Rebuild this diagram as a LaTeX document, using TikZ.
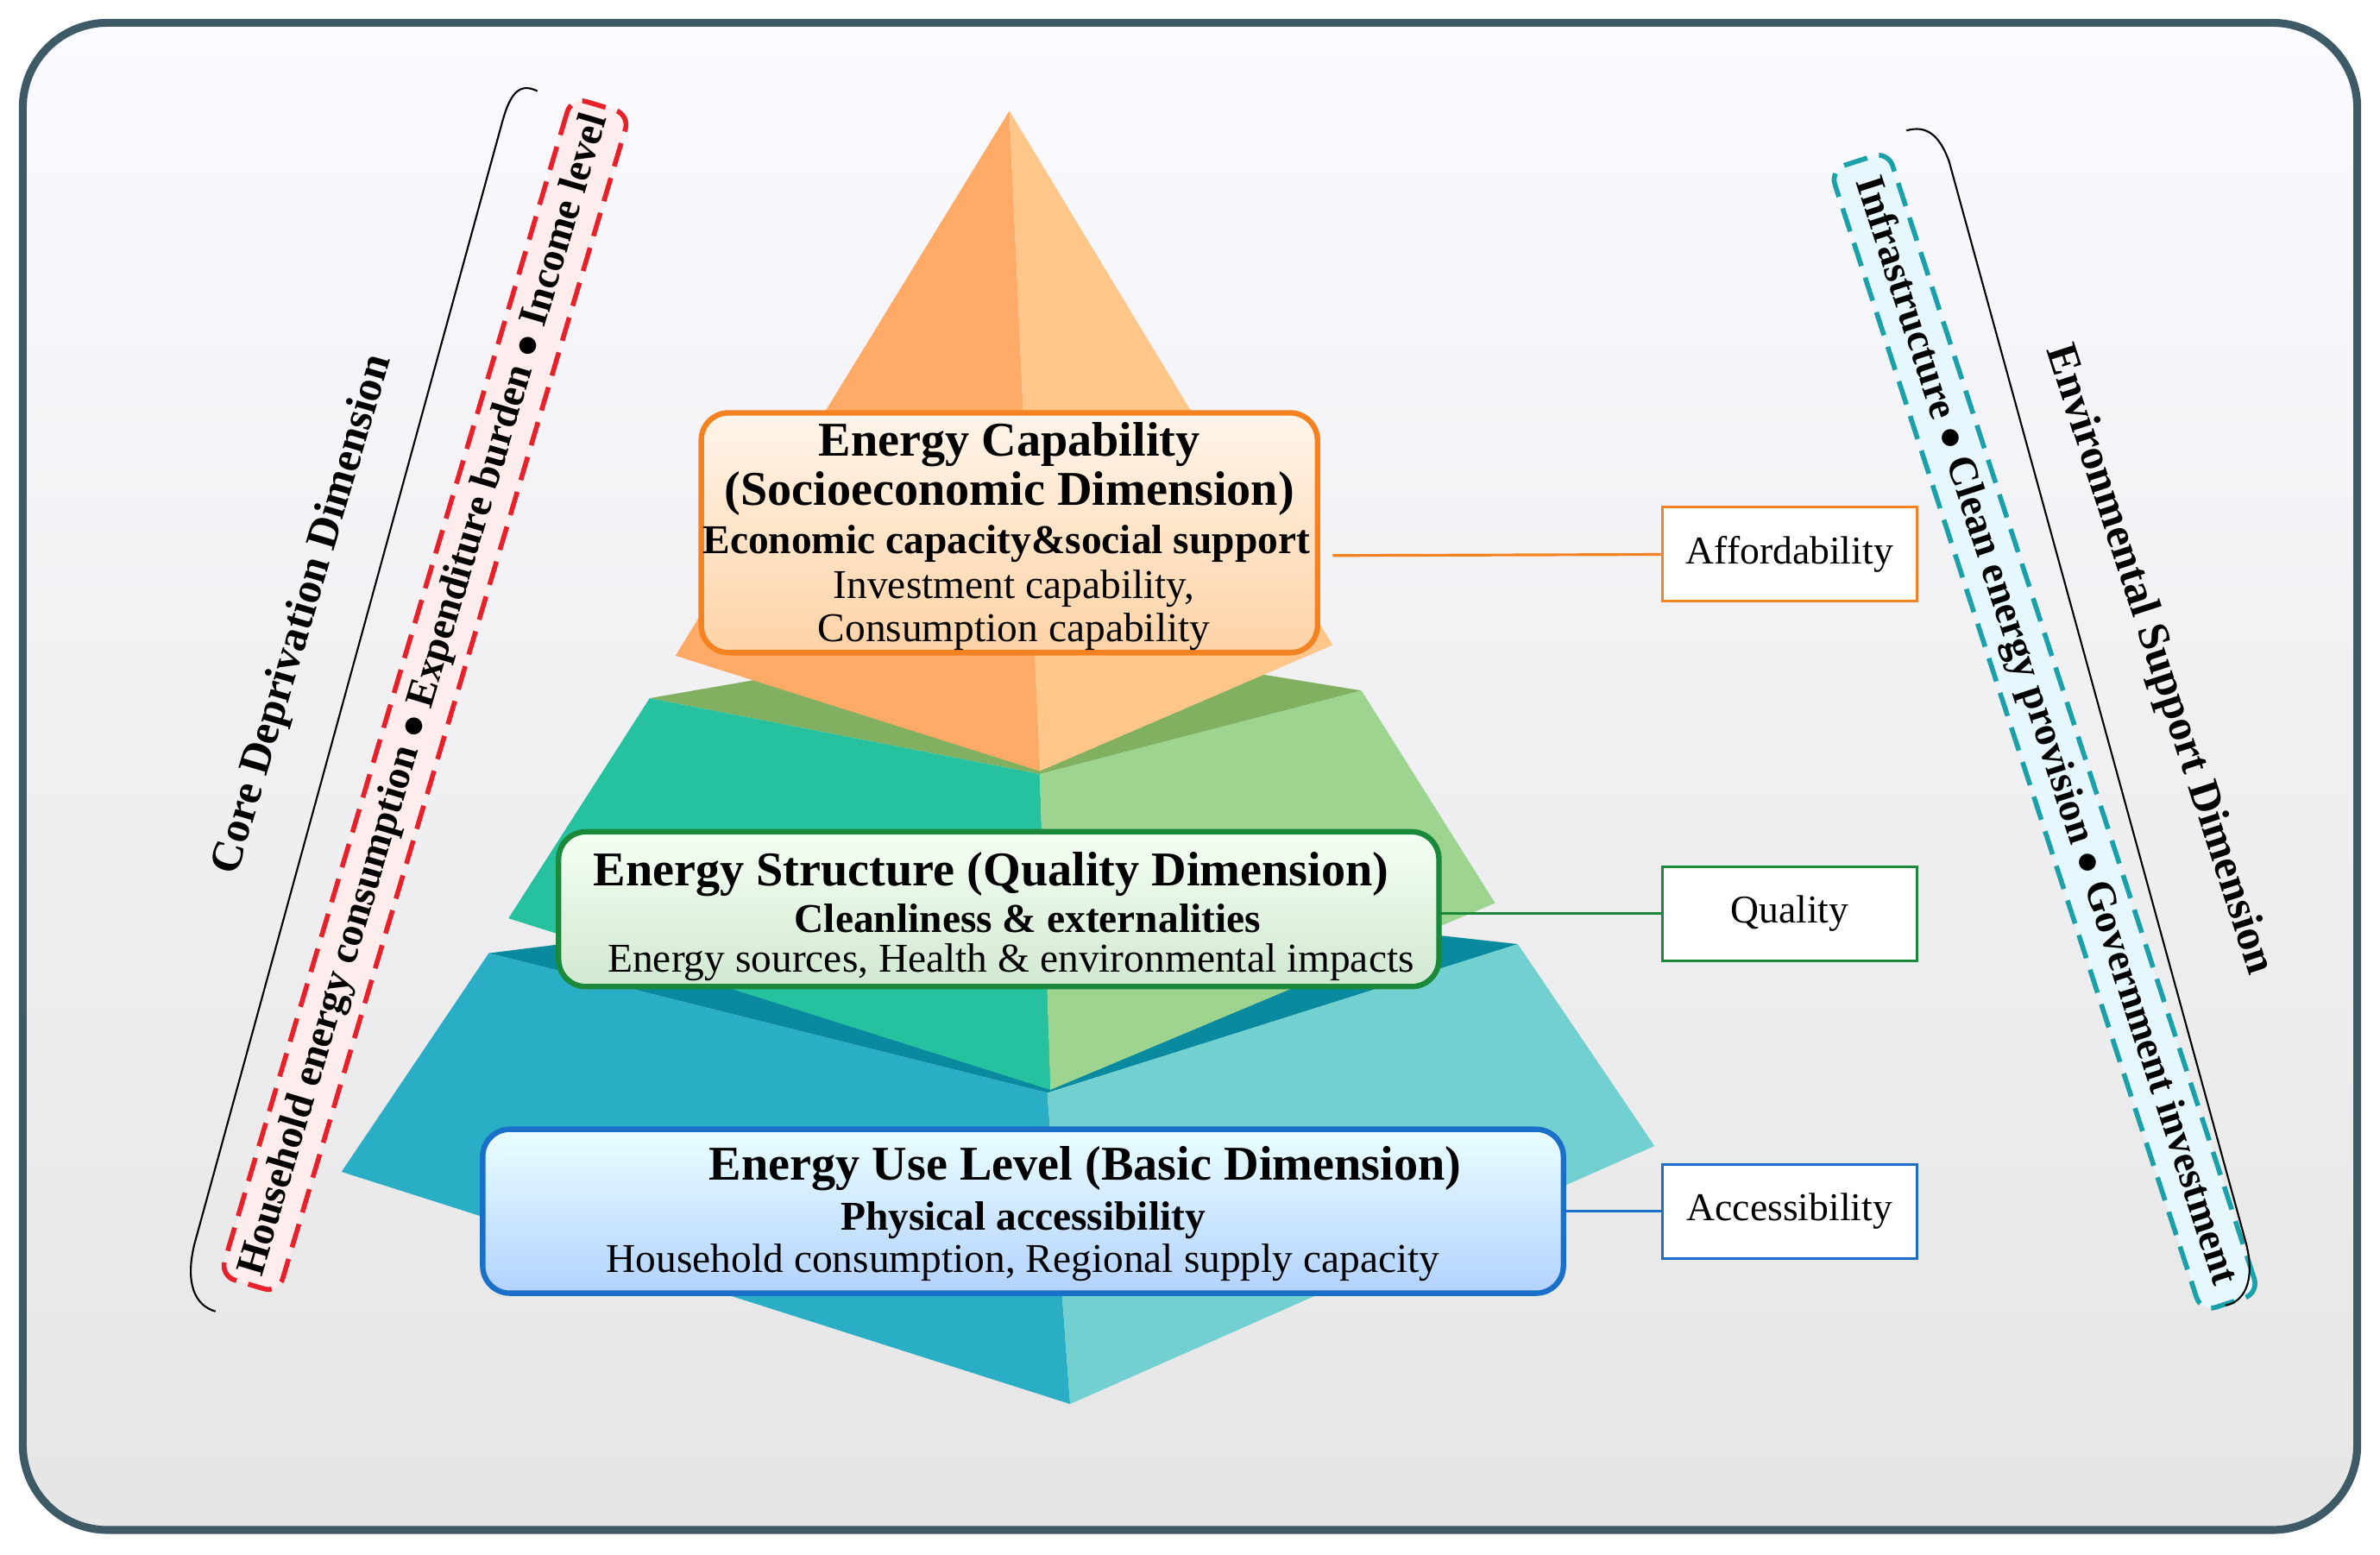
\documentclass[tikz,border=0pt]{standalone}
\usepackage{fontspec}
\setmainfont{Liberation Serif}
\usetikzlibrary{calc, positioning, arrows.meta, backgrounds, shapes.geometric}

\definecolor{frameC}{HTML}{3D5A66}
\definecolor{orangeC}{HTML}{F58220}
\definecolor{greenC}{HTML}{1A8A3A}
\definecolor{blueC}{HTML}{1A70C8}
\definecolor{redC}{HTML}{E8202A}
\definecolor{cyanC}{HTML}{1AA0A8}

\tikzset{
  dimbox/.style={draw, line width=1.8pt, rounded corners=9pt},
  tagbox/.style={draw, fill=white, line width=0.9pt, minimum width=84pt, minimum height=31pt, font=\fontsize{13}{15}\selectfont},
  headtxt/.style={font=\bfseries\fontsize{16}{16}\selectfont, align=center},
  subtxt/.style={font=\bfseries\fontsize{13.5}{14}\selectfont},
  bodytxt/.style={font=\fontsize{13.5}{14}\selectfont, align=center},
  sidebox/.style={dash pattern=on 8pt off 4pt, line width=1.6pt, rounded corners=5pt, minimum height=20pt, font=\bfseries\fontsize{13.5}{14}\selectfont},
  sidetitle/.style={font=\bfseries\fontsize{14.5}{15}\selectfont}
}

\begin{document}
\begin{tikzpicture}[x=0.01759cm, y=-0.01759cm]
  \useasboundingbox (0,0) rectangle (1568,1024);
  % frame
  \draw[frameC, line width=2.6pt, rounded corners=28pt, top color=white!50!blue!4, bottom color=black!10]
    (15,15) rectangle (1553,1008);

  % bottom layer
  \fill[color={rgb,255:red,10;green,138;blue,158}] (322,628) -- (665,585) -- (1000,622) -- (690,720) -- cycle;
  \fill[color={rgb,255:red,42;green,174;blue,198}] (322,628) -- (690,720) -- (705,925) -- (225,772) -- cycle;
  \fill[color={rgb,255:red,114;green,208;blue,208}] (690,720) -- (1000,622) -- (1090,755) -- (705,925) -- cycle;
  % middle layer
  \fill[color={rgb,255:red,128;green,176;blue,96}] (428,460) -- (670,418) -- (897,455) -- (685,510) -- cycle;
  \fill[color={rgb,255:red,38;green,194;blue,160}] (428,460) -- (685,510) -- (692,718) -- (335,605) -- cycle;
  \fill[color={rgb,255:red,157;green,212;blue,144}] (685,510) -- (897,455) -- (985,595) -- (692,718) -- cycle;
  % top pyramid
  \fill[color={rgb,255:red,255;green,170;blue,102}] (665,73) -- (445,432) -- (685,508) -- cycle;
  \fill[color={rgb,255:red,255;green,198;blue,138}] (665,73) -- (685,508) -- (878,425) -- cycle;

  % dimension boxes
  \draw[dimbox, orangeC, top color=orange!8, bottom color=orange!35] (462,272) rectangle (868,430);
  \node[headtxt] (capT) at (665,309) {Energy Capability\\(Socioeconomic Dimension)};
  \node[subtxt] (capS) at (663,358) {Economic capacity\&social support};
  \node[bodytxt] (capB) at (668,402) {Investment capability,\\Consumption capability};
  \coordinate (capR) at (878,366);

  \draw[dimbox, greenC, top color=green!4, bottom color=green!50!black!18] (368,548) rectangle (948,650);
  \node[headtxt] (strT) at (653,576) {Energy Structure (Quality Dimension)};
  \node[subtxt] (strS) at (677,605) {Cleanliness \& externalities};
  \node[bodytxt] (strB) at (666,634) {Energy sources, Health \& environmental impacts};
  \coordinate (strR) at (948,602);

  \draw[dimbox, blueC, top color=cyan!8, bottom color=cyan!40!blue!30] (318,744) rectangle (1030,852);
  \node[headtxt] (useT) at (715,770) {Energy Use Level (Basic Dimension)};
  \node[subtxt] (useS) at (674,804) {Physical accessibility};
  \node[bodytxt] (useB) at (674,832) {Household consumption, Regional supply capacity};
  \coordinate (useR) at (1030,798);

  % tags
  \node[tagbox, draw=orangeC] (aff) at (1179,365) {Affordability};
  \node[tagbox, draw=greenC] (qua) at (1179,602) {Quality};
  \node[tagbox, draw=blueC] (acc) at (1179,798) {Accessibility};
  \draw[orangeC, line width=0.9pt] (capR) -- (aff);
  \draw[greenC, line width=0.9pt] (strR) -- (qua);
  \draw[blueC, line width=0.9pt] (useR) -- (acc);

  % left side
  \node[sidebox, draw=redC, fill=red!7, rotate=73.4, minimum width=400pt] (core) at (280,458)
    {Household energy consumption $\bullet$ Expenditure burden $\bullet$ Income level};
  \node[sidetitle, rotate=73.4] (coreT) at (200,405) {Core Deprivation Dimension};
  \draw[line width=0.6pt] (354,60) .. controls (342,54) and (336,62) .. (331,80) -- (128,820)
    .. controls (122,845) and (128,860) .. (142,864);

  % right side
  \node[sidebox, draw=cyanC, fill=cyan!10, rotate=-72, minimum width=396pt] (env) at (1347,482)
    {Infrastructure $\bullet$ Clean energy provision $\bullet$ Government investment};
  \node[sidetitle, rotate=-72] (envT) at (1422,435) {Environmental Support Dimension};
  \draw[line width=0.6pt] (1256,86) .. controls (1270,82) and (1278,90) .. (1284,106) -- (1480,820)
    .. controls (1486,845) and (1478,858) .. (1466,860);
\end{tikzpicture}
\end{document}
